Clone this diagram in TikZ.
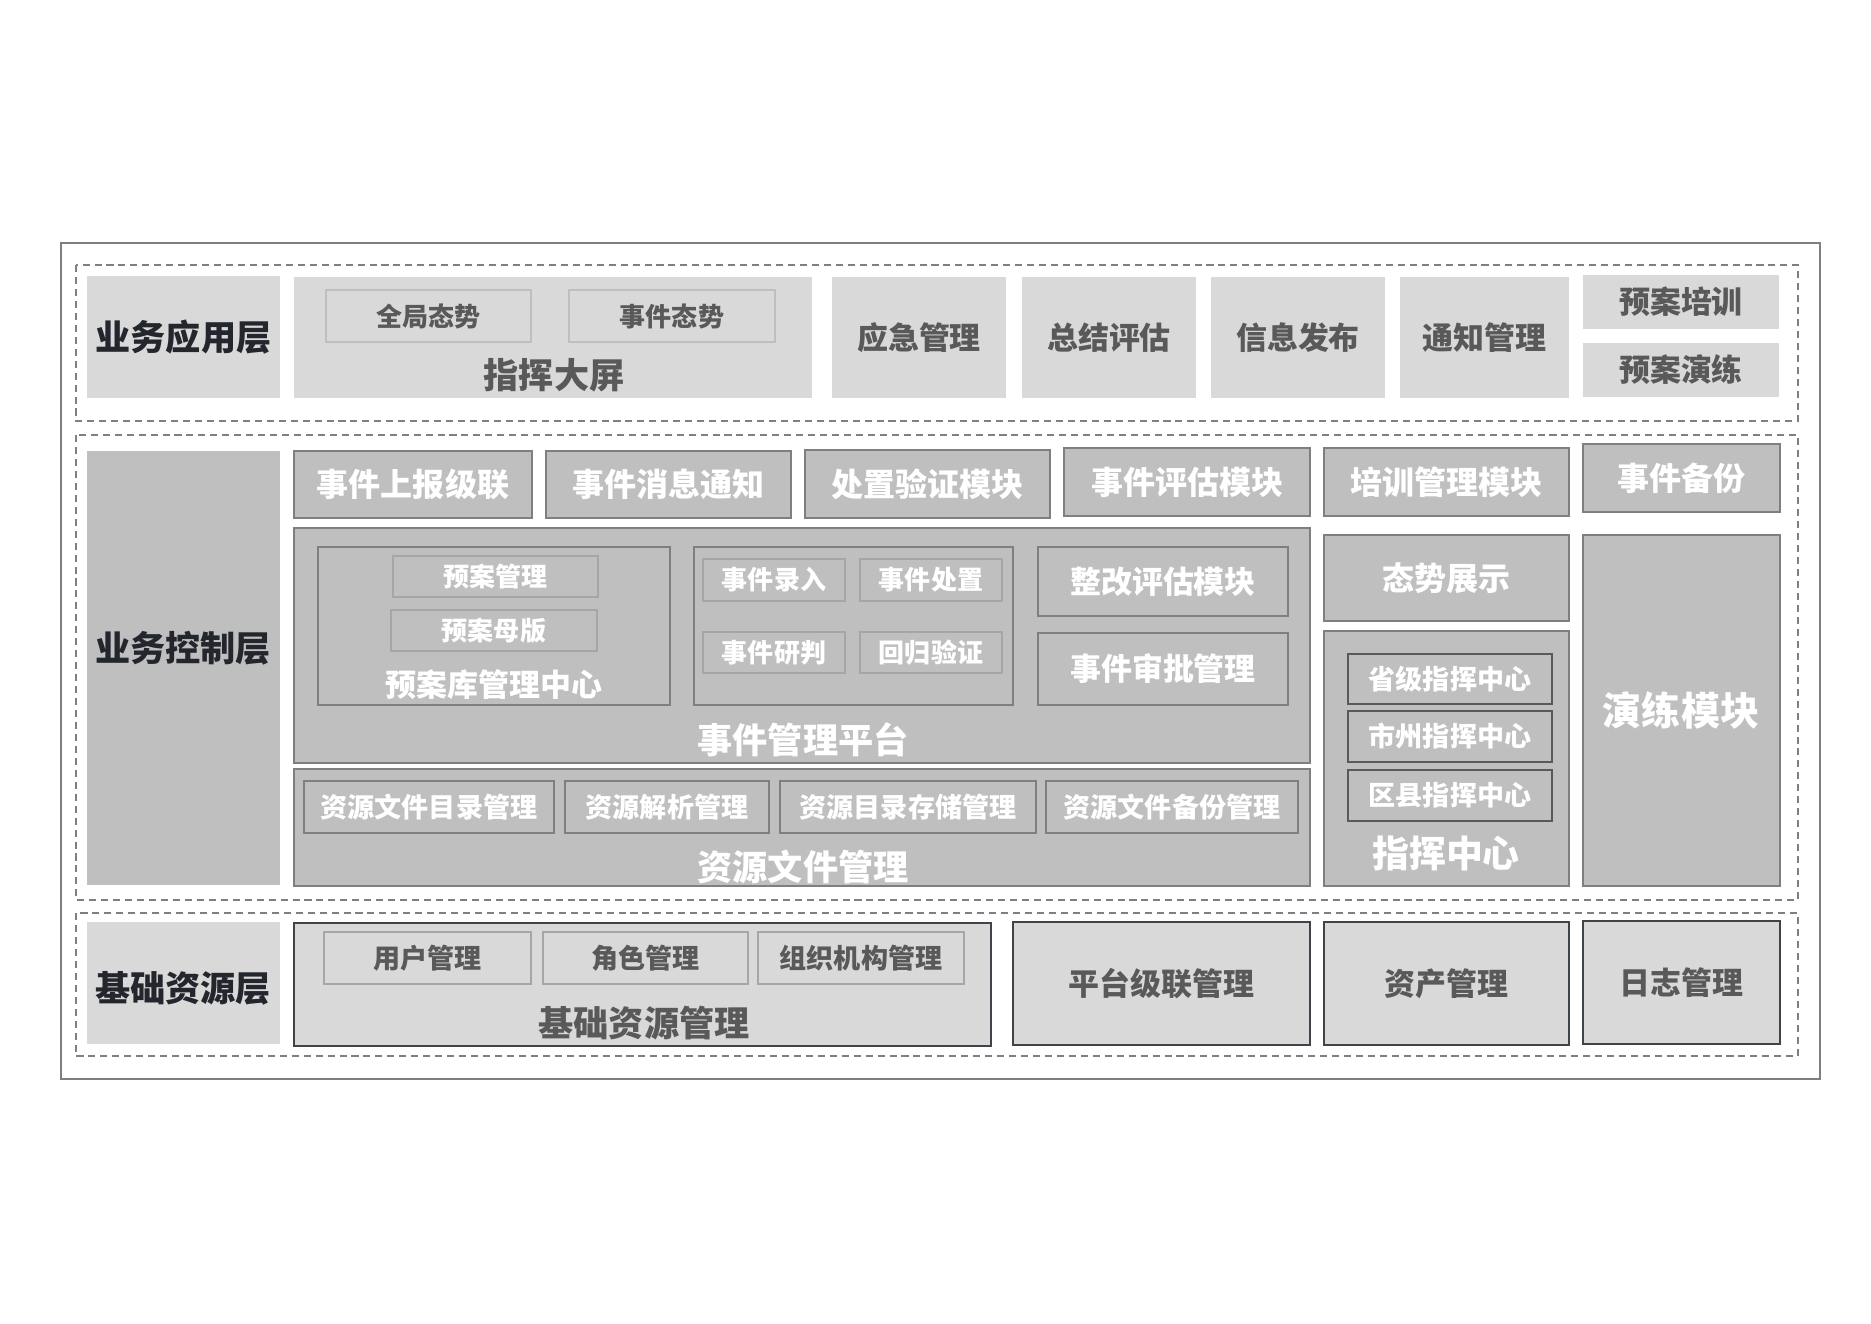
\documentclass[tikz,border=0pt]{standalone}
\usepackage{fontspec}
\newfontfamily\cjk{Noto Sans CJK SC}[BoldFont={* Black}]
\definecolor{lite}{HTML}{D9D9D9}
\definecolor{mid}{HTML}{BFBFBF}
\definecolor{edge}{HTML}{7F7F7F}
\definecolor{thin}{HTML}{A6A6A6}
\definecolor{dark}{HTML}{3F434A}
\definecolor{gtxt}{HTML}{595959}
\definecolor{ink}{HTML}{23272D}

\begin{document}
\begin{tikzpicture}[x=0.01cm,y=-0.01cm,
		frame/.style={draw=edge,line width=0.6pt},
		layer/.style={draw=edge,line width=0.45pt,dash pattern=on 2pt off 1.4pt},
		topsub/.style={draw=mid,fill=lite,line width=0.5pt},
		midbox/.style={draw=edge,fill=mid,line width=0.6pt},
		midsub/.style={draw=thin,fill=mid,line width=0.5pt},
		botbox/.style={draw=dark,fill=lite,line width=0.6pt},
		botsub/.style={draw=thin,fill=lite,line width=0.5pt},
		gt/.style={text=gtxt},
		wt/.style={text=white},
		tag/.style={text=ink,font=\cjk\bfseries\fontsize{10}{10}\selectfont},
		f26/.style={font=\cjk\bfseries\fontsize{7.4}{7.4}\selectfont},
		f27/.style={font=\cjk\bfseries\fontsize{7.7}{7.7}\selectfont},
		f31/.style={font=\cjk\bfseries\fontsize{8.8}{8.8}\selectfont},
		f32/.style={font=\cjk\bfseries\fontsize{9.1}{9.1}\selectfont},
		f35/.style={font=\cjk\bfseries\fontsize{10}{10}\selectfont},
		f37/.style={font=\cjk\bfseries\fontsize{10.5}{10.5}\selectfont},
		f39/.style={font=\cjk\bfseries\fontsize{11.1}{11.1}\selectfont}]
		\useasboundingbox (0,0) rectangle (1871,1323);
		\fill[white] (0,0) rectangle (1871,1323);
		% frame and layers
		\draw[frame] (61,243) rectangle (1820,1079);
		\draw[layer] (76,265) rectangle (1798,421);
		\draw[layer] (76,435) rectangle (1798,900);
		\draw[layer] (76,913) rectangle (1798,1056);
		% application layer
		\fill[lite] (87,276) rectangle (280,398) node[pos=.5,tag] (yyc) {业务应用层};
		\fill[lite] (294,277) rectangle (812,398);
		\node[gt,f35] (zhdp) at (554,375) {指挥大屏};
		\draw[topsub] (326,290) rectangle (531,342) node[pos=.5,gt,f26] (qjts) {全局态势};
		\draw[topsub] (569,290) rectangle (775,342) node[pos=.5,gt,f26] (sjts) {事件态势};
		\fill[lite] (832,277) rectangle (1006,398) node[pos=.5,gt,f31] (yjgl) {应急管理};
		\fill[lite] (1022,277) rectangle (1196,398) node[pos=.5,gt,f31] (zjpg) {总结评估};
		\fill[lite] (1211,277) rectangle (1385,398) node[pos=.5,gt,f31] (xxfb) {信息发布};
		\fill[lite] (1400,277) rectangle (1569,398) node[pos=.5,gt,f31] (tzgl) {通知管理};
		\fill[lite] (1583,275) rectangle (1779,329) node[pos=.5,gt,f31] (yapx) {预案培训};
		\fill[lite] (1583,343) rectangle (1779,397) node[pos=.5,gt,f31] (yayl) {预案演练};
		% control layer
		\fill[mid] (87,451) rectangle (280,885);
		\node[tag] (kzc) at (183,648) {业务控制层};
		\draw[midbox] (294,451) rectangle (532,518) node[pos=.5,wt,f32] (sbjl) {事件上报级联};
		\draw[midbox] (546,451) rectangle (791,518) node[pos=.5,wt,f32] (xxtz) {事件消息通知};
		\draw[midbox] (805,450) rectangle (1050,518) node[pos=.5,wt,f32] (czyz) {处置验证模块};
		\draw[midbox] (1064,448) rectangle (1310,516) node[pos=.5,wt,f32] (sjpg) {事件评估模块};
		\draw[midbox] (1324,448) rectangle (1569,516) node[pos=.5,wt,f32] (pxgl) {培训管理模块};
		\draw[midbox] (1583,444) rectangle (1780,512) node[pos=.5,wt,f32] (sjbf) {事件备份};
		\draw[midbox] (294,528) rectangle (1310,763);
		\node[wt,f35] (sjpt) at (803,740) {事件管理平台};
		\draw[midbox] (318,547) rectangle (670,705);
		\node[wt,f31] (yak) at (494,685) {预案库管理中心};
		\draw[midsub] (393,556) rectangle (598,597) node[pos=.5,wt,f26] (yagl) {预案管理};
		\draw[midsub] (391,610) rectangle (597,651) node[pos=.5,wt,f26] (yamb) {预案母版};
		\draw[midbox] (694,547) rectangle (1013,705);
		\draw[midsub] (703,559) rectangle (845,601) node[pos=.5,wt,f26] (sjlr) {事件录入};
		\draw[midsub] (860,559) rectangle (1002,601) node[pos=.5,wt,f26] (sjcz) {事件处置};
		\draw[midsub] (703,632) rectangle (845,673) node[pos=.5,wt,f26] (sjyp) {事件研判};
		\draw[midsub] (860,632) rectangle (1002,673) node[pos=.5,wt,f26] (hgyz) {回归验证};
		\draw[midbox] (1038,547) rectangle (1288,616) node[pos=.5,wt,f31] (zgpg) {整改评估模块};
		\draw[midbox] (1038,633) rectangle (1288,705) node[pos=.5,wt,f31] (sjsp) {事件审批管理};
		\draw[midbox] (294,769) rectangle (1310,886);
		\node[wt,f35] (zywj) at (803,867) {资源文件管理};
		\draw[midbox] (304,781) rectangle (554,833) node[pos=.5,wt,f27] (mlgl) {资源文件目录管理};
		\draw[midbox] (565,781) rectangle (769,833) node[pos=.5,wt,f27] (jxgl) {资源解析管理};
		\draw[midbox] (780,781) rectangle (1036,833) node[pos=.5,wt,f27] (ccgl) {资源目录存储管理};
		\draw[midbox] (1046,781) rectangle (1298,833) node[pos=.5,wt,f27] (bfgl) {资源文件备份管理};
		\draw[midbox] (1324,535) rectangle (1569,621) node[pos=.5,wt,f32] (tszs) {态势展示};
		\draw[midbox] (1324,631) rectangle (1569,886);
		\node[wt,f37] (zhzx) at (1446,853) {指挥中心};
		\draw[midbox,draw=gtxt] (1348,654) rectangle (1552,704) node[pos=.5,wt,f27] (sjzh) {省级指挥中心};
		\draw[midbox,draw=gtxt] (1348,711) rectangle (1552,762) node[pos=.5,wt,f27] (szzh) {市州指挥中心};
		\draw[midbox,draw=gtxt] (1348,770) rectangle (1552,821) node[pos=.5,wt,f27] (qxzh) {区县指挥中心};
		\draw[midbox] (1583,535) rectangle (1780,886);
		\node[wt,f39] (ylmk) at (1681,710) {演练模块};
		% base layer
		\fill[lite] (87,922) rectangle (280,1044);
		\node[tag] (jcc) at (183,988) {基础资源层};
		\draw[botbox] (294,923) rectangle (991,1046);
		\node[gt,f35] (jczy) at (644,1023) {基础资源管理};
		\draw[botsub] (324,932) rectangle (531,984) node[pos=.5,gt,f27] (yhgl) {用户管理};
		\draw[botsub] (543,932) rectangle (748,984) node[pos=.5,gt,f27] (jsgl) {角色管理};
		\draw[botsub] (758,932) rectangle (964,984) node[pos=.5,gt,f27] (zzgl) {组织机构管理};
		\draw[botbox] (1013,922) rectangle (1310,1045) node[pos=.5,gt,f31] (ptjl) {平台级联管理};
		\draw[botbox] (1324,922) rectangle (1569,1045) node[pos=.5,gt,f31] (zcgl) {资产管理};
		\draw[botbox] (1583,921) rectangle (1780,1044) node[pos=.5,gt,f31] (rzgl) {日志管理};
	\end{tikzpicture}
\end{document}
